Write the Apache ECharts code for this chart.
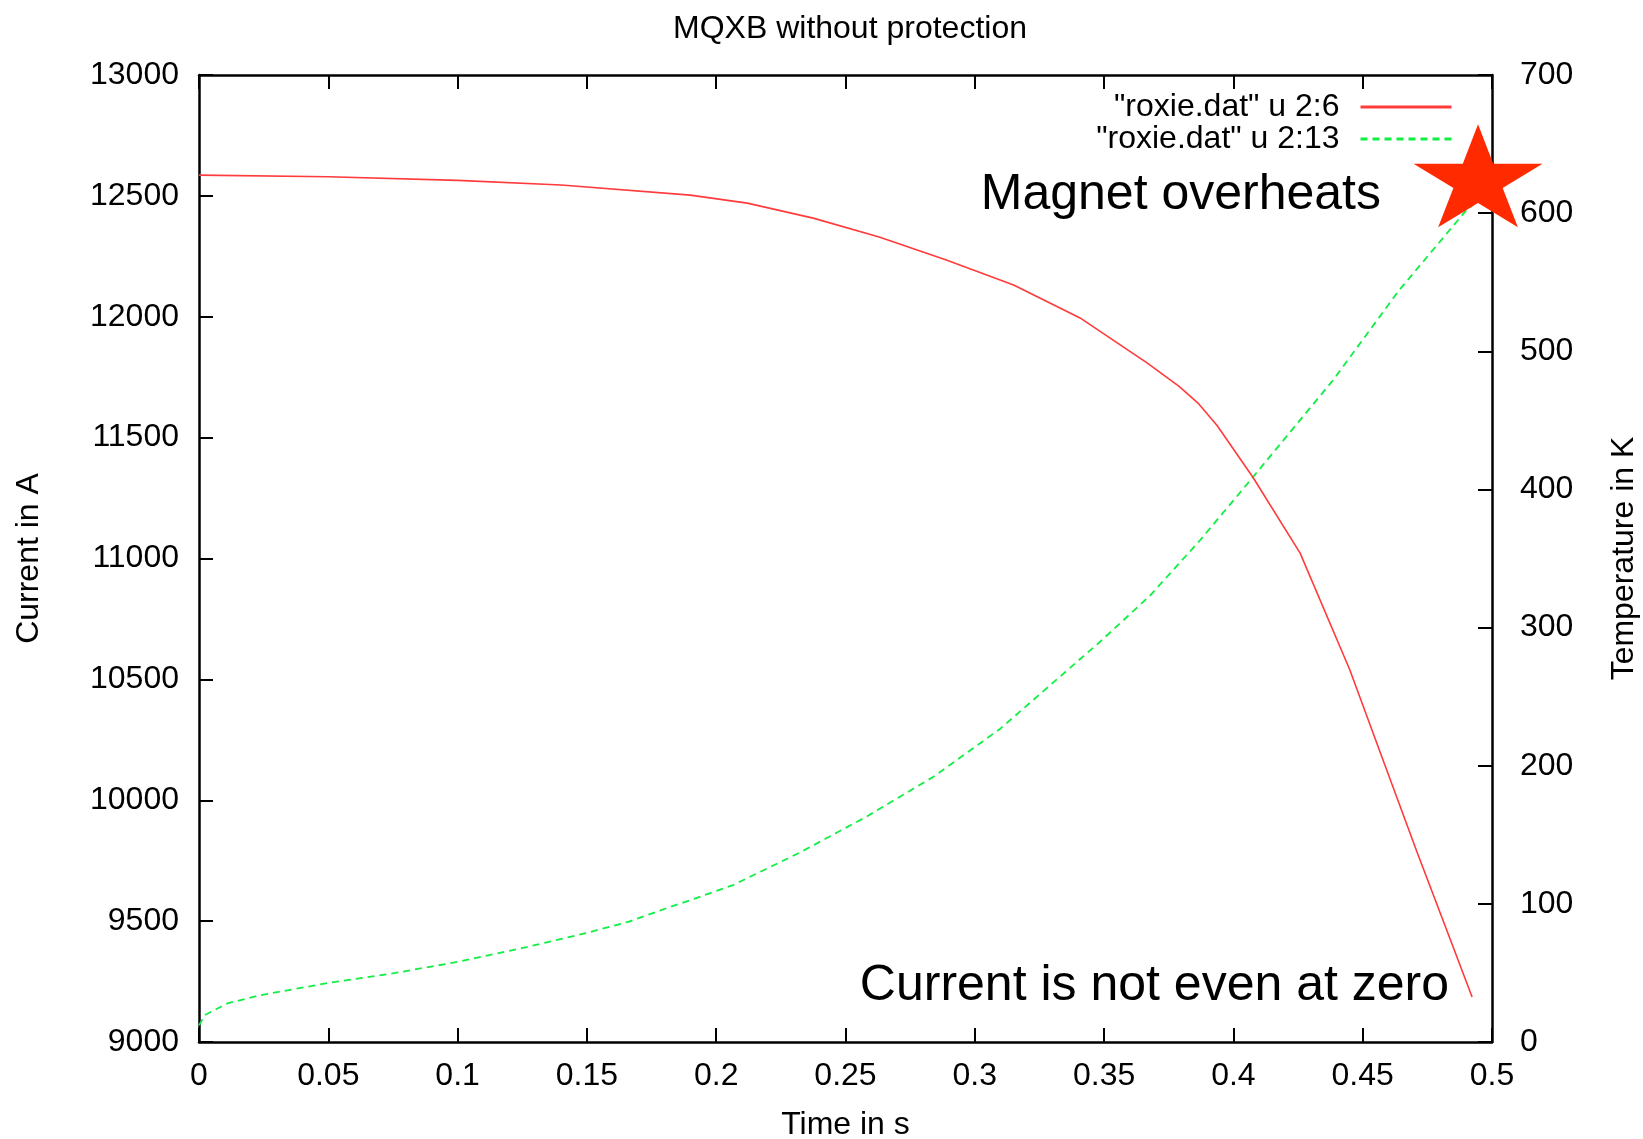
<!DOCTYPE html>
<html>
<head>
<meta charset="utf-8">
<script src="https://cdn.jsdelivr.net/npm/echarts@6/dist/echarts.min.js"></script>
<style>
html,body{margin:0;padding:0;background:#ffffff;}
#chart{width:1643px;height:1139px;}
</style>
</head>
<body>
<div id="chart"></div>
<script>
// ---------- data ----------
const chartTitle = 'MQXB without protection';
const xAxisName = 'Time in s';
const yAxisName = 'Current in A';
const y2AxisName = 'Temperature in K';
const seriesNames = ['"roxie.dat" u 2:6', '"roxie.dat" u 2:13'];

// current (left axis, A)
const currentTime   = [0, 0.05, 0.10, 0.14, 0.19, 0.212, 0.2375, 0.263, 0.289, 0.315, 0.3407, 0.3666, 0.379, 0.3863, 0.3937, 0.4076, 0.4258, 0.445, 0.458, 0.471, 0.4838, 0.4923];
const currentValues = [12586, 12579, 12564, 12545, 12503, 12470, 12408, 12330, 12235, 12131, 11995, 11809, 11712, 11643, 11550, 11335, 11022, 10540, 10162, 9786, 9426, 9186];

// temperature (right axis, K)
const tempTime   = [0, 0.0023, 0.011, 0.024, 0.05, 0.076, 0.10, 0.127, 0.15, 0.166, 0.181, 0.192, 0.2065, 0.232, 0.258, 0.284, 0.31, 0.3357, 0.348, 0.3677, 0.387, 0.4076, 0.4385, 0.464, 0.49, 0.4927];
const tempValues = [12, 19.5, 28, 34, 42.7, 50, 58, 68.8, 79, 87, 97, 104, 113.6, 136.8, 163, 192, 227, 269, 289, 323, 363, 409, 479, 544, 602, 606];

const xRange = [0, 0.5, 0.05];
const yRange = [9000, 13000, 500];
const y2Range = [0, 700, 100];

const annotationTexts = ['Magnet overheats', 'Current is not even at zero'];
const starCoord = [0.4946, 627];

// ---------- chart ----------
const FONT = '"Liberation Sans", Arial, Helvetica, sans-serif';
const zip = (xs, ys) => xs.map((x, i) => [x, ys[i]]);

// five-pointed star path (shape only)
function starPath() {
  const pts = [];
  for (let i = 0; i < 10; i++) {
    const r = i % 2 === 0 ? 1 : 0.382;
    const a = -Math.PI / 2 + i * Math.PI / 5;
    pts.push((r * Math.cos(a)).toFixed(4) + ',' + (r * Math.sin(a)).toFixed(4));
  }
  return 'path://M' + pts.join('L') + 'Z';
}

const axisLineStyle = { show: true, onZero: false, lineStyle: { color: '#000', width: 2.5 } };
const axisTickStyle = { show: true, inside: true, length: 14, lineStyle: { color: '#000', width: 2 } };
const labelStyle = { color: '#000', fontSize: 32, fontFamily: FONT };
const nameStyle = { color: '#000', fontSize: 32, fontFamily: FONT };

const chart = echarts.init(document.getElementById('chart'), null, { renderer: 'canvas' });
chart.setOption({
  animation: false,
  backgroundColor: '#ffffff',
  title: {
    text: chartTitle,
    left: 845, top: 8, textAlign: 'center',
    textStyle: { color: '#000', fontSize: 32, fontWeight: 'normal', fontFamily: FONT }
  },
  grid: { left: 199, right: 151, top: 75, bottom: 97, containLabel: false, outerBoundsMode: 'none' },
  legend: {
    data: seriesNames,
    orient: 'vertical', align: 'right',
    right: 190, top: 91, padding: 0,
    itemWidth: 91, itemHeight: 14, itemGap: 0,
    selectedMode: false,
    itemStyle: { opacity: 0 },
    lineStyle: { width: 3 },
    textStyle: { color: '#000', fontSize: 32, lineHeight: 31, fontFamily: FONT, padding: [0, 16, 0, 0] }
  },
  xAxis: [
    {
      type: 'value', position: 'bottom', min: xRange[0], max: xRange[1], interval: xRange[2],
      axisLine: axisLineStyle, axisTick: axisTickStyle,
      axisLabel: Object.assign({ margin: 18, showMinLabel: true, showMaxLabel: true,
        formatter: v => String(+v.toFixed(2)) }, labelStyle),
      splitLine: { show: false },
      name: xAxisName, nameLocation: 'middle', nameGap: 67, nameTextStyle: nameStyle
    },
    {
      type: 'value', position: 'top', min: xRange[0], max: xRange[1], interval: xRange[2],
      axisLine: axisLineStyle, axisTick: axisTickStyle,
      axisLabel: { show: false }, splitLine: { show: false }
    }
  ],
  yAxis: [
    {
      type: 'value', position: 'left', min: yRange[0], max: yRange[1], interval: yRange[2],
      axisLine: axisLineStyle, axisTick: axisTickStyle,
      axisLabel: Object.assign({ margin: 20, showMinLabel: true, showMaxLabel: true,
        formatter: v => String(v) }, labelStyle),
      splitLine: { show: false },
      name: yAxisName, nameLocation: 'middle', nameGap: 154, nameRotate: 90, nameTextStyle: nameStyle
    },
    {
      type: 'value', position: 'right', min: y2Range[0], max: y2Range[1], interval: y2Range[2],
      axisLine: axisLineStyle, axisTick: axisTickStyle,
      axisLabel: Object.assign({ margin: 28, showMinLabel: true, showMaxLabel: true,
        formatter: v => String(v) }, labelStyle),
      splitLine: { show: false },
      name: y2AxisName, nameLocation: 'middle', nameGap: 116, nameRotate: 90, nameTextStyle: nameStyle
    }
  ],
  series: [
    {
      name: seriesNames[0], type: 'line', xAxisIndex: 0, yAxisIndex: 0,
      data: zip(currentTime, currentValues),
      symbol: 'none', smooth: false,
      lineStyle: { color: '#ff3b3b', width: 1.6 },
      itemStyle: { color: '#ff3b3b' },
      z: 3
    },
    {
      name: seriesNames[1], type: 'line', xAxisIndex: 0, yAxisIndex: 1,
      data: zip(tempTime, tempValues),
      symbol: 'none', smooth: false,
      lineStyle: { color: '#11ee44', width: 1.8, type: [7, 5] },
      itemStyle: { color: '#11ee44' },
      z: 2,
      markPoint: {
        silent: true,
        symbol: starPath(),
        symbolSize: [129, 103],
        symbolKeepAspect: false,
        itemStyle: { color: '#ff2a00' },
        label: { show: false },
        data: [{ coord: starCoord }]
      }
    }
  ],
  graphic: [
    {
      type: 'text', x: 1381, y: 195, z: 10,
      style: { text: annotationTexts[0], fill: '#000', fontSize: 50, fontFamily: FONT,
        align: 'right', verticalAlign: 'middle', textAlign: 'right', textVerticalAlign: 'middle' }
    },
    {
      type: 'text', x: 1449, y: 986, z: 10,
      style: { text: annotationTexts[1], fill: '#000', fontSize: 50, fontFamily: FONT,
        align: 'right', verticalAlign: 'middle', textAlign: 'right', textVerticalAlign: 'middle' }
    }
  ]
});
</script>
</body>
</html>
